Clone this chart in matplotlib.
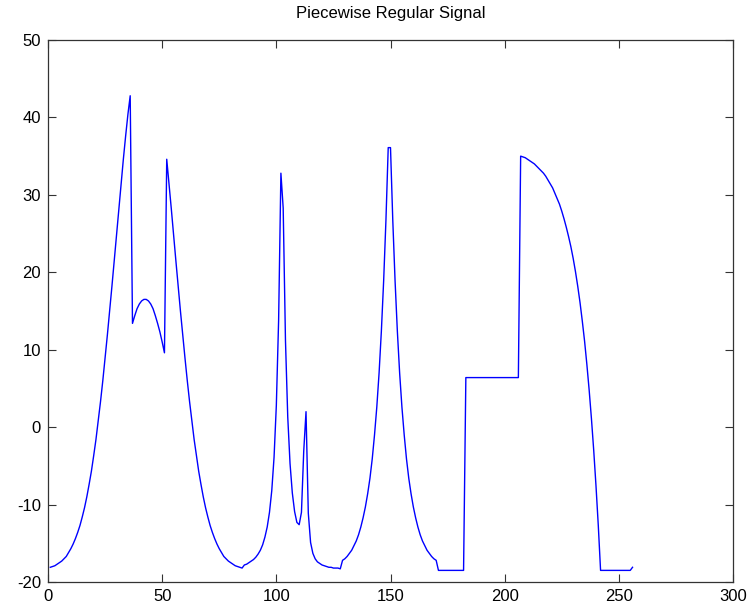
import matplotlib
matplotlib.use("Agg")
import matplotlib.pyplot as plt
import numpy as np

# sample index 1..256 and the signal values, piece by piece
gauss_left = [-18.1, -18.0, -17.9, -17.7, -17.5, -17.3, -17.0, -16.7, -16.2, -15.7,
              -15.1, -14.4, -13.6, -12.7, -11.6, -10.4, -9.0, -7.4, -5.7, -3.7,
              -1.6, 0.8, 3.3, 6.0, 8.9, 11.9, 15.0, 18.2, 21.5, 24.8,
              28.2, 31.4, 34.6, 37.6, 40.4, 42.8]
half_bump = [13.4, 14.4, 15.3, 15.9, 16.3, 16.5, 16.5, 16.3, 15.9, 15.3,
             14.4, 13.4, 12.3, 11.0, 9.6]
gauss_right = [34.6, 31.4, 28.2, 24.8, 21.5, 18.2, 15.0, 11.9, 8.9, 6.0,
               3.3, 0.8, -1.6, -3.7, -5.7, -7.4, -9.0, -10.4, -11.6, -12.7,
               -13.6, -14.4, -15.1, -15.7, -16.2, -16.7, -17.0, -17.3, -17.5, -17.7,
               -17.9, -18.0, -18.1, -18.2]
bumps = [-17.8, -17.7, -17.5, -17.3, -17.1, -16.8, -16.4, -15.9, -15.2, -14.2,
         -12.9, -11.0, -8.2, -3.9, 2.8, 13.8, 32.8, 28.3, 11.2, 1.3,
         -4.7, -8.5, -10.9, -12.3, -12.6, -11.0, -3.1, 2.0, -11.1, -14.9,
         -16.3, -17.0, -17.4, -17.6, -17.8, -17.9, -18.0, -18.1, -18.1, -18.2,
         -18.2, -18.2, -18.3]
exp_up = [-17.2, -17.0, -16.7, -16.3, -15.9, -15.3, -14.7, -13.9, -12.9, -11.7,
          -10.3, -8.6, -6.6, -4.1, -1.0, 2.6, 7.0, 12.4, 18.9, 26.7, 36.1]
exp_down = [36.1, 26.7, 18.9, 12.4, 7.0, 2.6, -1.0, -4.1, -6.6, -8.6,
            -10.3, -11.7, -12.9, -13.9, -14.7, -15.3, -15.9, -16.3, -16.7, -17.0,
            -17.2]
low_flat = [-18.5, -18.5, -18.5, -18.5, -18.5, -18.5, -18.5, -18.5, -18.5, -18.5,
            -18.5, -18.5]
step_flat = [6.4, 6.4, 6.4, 6.4, 6.4, 6.4, 6.4, 6.4, 6.4, 6.4,
             6.4, 6.4, 6.4, 6.4, 6.4, 6.4, 6.4, 6.4, 6.4, 6.4,
             6.4, 6.4, 6.4, 6.4]
decay = [35.0, 34.9, 34.8, 34.6, 34.4, 34.2, 34.0, 33.7, 33.4, 33.1,
         32.8, 32.4, 31.9, 31.4, 30.9, 30.2, 29.5, 28.8, 27.9, 26.9,
         25.8, 24.6, 23.3, 21.8, 20.1, 18.2, 16.1, 13.7, 11.1, 8.1,
         4.8, 1.1, -3.0, -7.6, -12.7, -18.5]
tail = [-18.5, -18.5, -18.5, -18.5, -18.5, -18.5, -18.5, -18.5, -18.5, -18.5,
        -18.5, -18.5, -18.5, -18.1]

sig = np.array(gauss_left + half_bump + gauss_right + bumps + exp_up + exp_down
               + low_flat + step_flat + decay + tail)
t = np.arange(1, len(sig) + 1)

xticks = [0, 50, 100, 150, 200, 250, 300]
yticks = [-20, -10, 0, 10, 20, 30, 40, 50]

plt.rcParams['font.family'] = ['Liberation Sans', 'DejaVu Sans']
plt.rcParams['axes.unicode_minus'] = False

fig = plt.figure(figsize=(7.51, 6.11), dpi=100)
# axes box in pixels: x 48..733, y 40..582
ax = fig.add_axes([48 / 751, 1 - 582 / 611, 685 / 751, 542 / 611])
ax.plot(t, sig, color='#0000ff', linewidth=1.0)

ax.set_xlim(0, 300)
ax.set_ylim(-20, 50)
ax.set_xticks(xticks)
ax.set_yticks(yticks)
ax.tick_params(direction='in', top=True, right=True, length=5.5, width=0.8,
               labelsize=12, pad=5, color='#333333')
for s in ax.spines.values():
    s.set_linewidth(0.9)
    s.set_color('#333333')
ax.set_title("Piecewise Regular Signal", fontsize=12, pad=16)

fig.savefig("out.png", dpi=100)
